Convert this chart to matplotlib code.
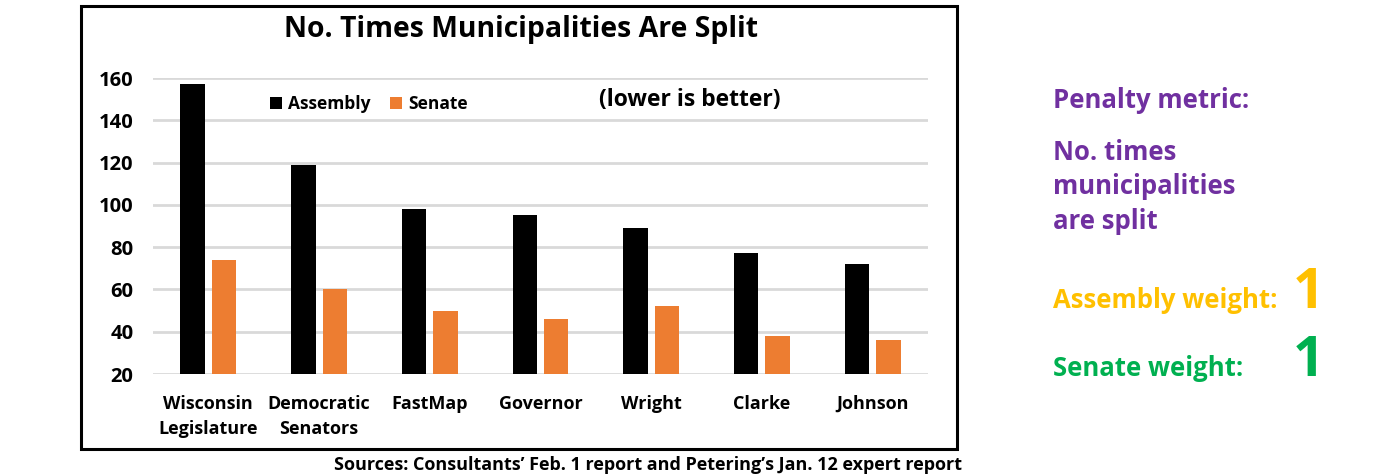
import matplotlib
matplotlib.use("Agg")
import matplotlib.pyplot as plt
from matplotlib.patches import Rectangle
import numpy as np

categories = ["Wisconsin\nLegislature", "Democratic\nSenators", "FastMap", "Governor",
              "Wright", "Clarke", "Johnson"]
assembly = [157, 119, 98, 95, 89, 77, 72]
senate = [74, 60, 50, 46, 52, 38, 36]
yticks = [20, 40, 60, 80, 100, 120, 140, 160]

plt.rcParams['font.family'] = ['Open Sans', 'DejaVu Sans']
W, H = 1385, 474
fig = plt.figure(figsize=(W / 100, H / 100), dpi=100)

# frame
fig.patches.append(Rectangle((81 / W, 1 - 449 / H), (957 - 81) / W, (449 - 6) / H,
                             transform=fig.transFigure, fill=False, edgecolor='black',
                             linewidth=2.2, zorder=0))

ax = fig.add_axes([153 / W, 1 - 374 / H, (928 - 153) / W, (374 - 78) / H])
x = np.arange(len(categories))
bw = 0.22
ax.bar(x - 0.142, [a - 20 for a in assembly], bw, bottom=20, color='black', zorder=3,
       label='Assembly')
ax.bar(x + 0.142, [s - 20 for s in senate], bw, bottom=20, color='#ED7D31', zorder=3,
       label='Senate')
ax.set_xlim(-0.5, len(categories) - 0.5)
ax.set_ylim(20, 160)
ax.set_yticks(yticks)
ax.set_yticklabels([str(t) for t in yticks], fontsize=14.5, fontweight='bold')
ax.set_xticks(x)
ax.set_xticklabels(categories, fontsize=13, fontweight='bold', linespacing=1.5)
ax.tick_params(axis='both', length=0)
ax.tick_params(axis='y', pad=14)
ax.tick_params(axis='x', pad=15)
ax.yaxis.grid(True, color='#D9D9D9', linewidth=2, zorder=0)
for s in ax.spines.values():
    s.set_visible(False)

leg = ax.legend(loc='upper left', bbox_to_anchor=(0.131, 0.995), ncol=2, frameon=False,
                prop={'size': 12.5, 'weight': 'bold'}, handlelength=0.7, handleheight=0.7,
                handletextpad=0.35, columnspacing=1.1)

fig.text(521 / W, 1 - 30 / H, "No. Times Municipalities Are Split", ha='center',
         va='center', fontsize=20.4, fontweight='bold')
fig.text(690 / W, 1 - 100 / H, "(lower is better)", ha='center', va='center',
         fontsize=16.5, fontweight='bold')
fig.text(962 / W, 1 - 465 / H,
         "Sources: Consultants\u2019 Feb. 1 report and Petering\u2019s Jan. 12 expert report",
         ha='right', va='center', fontsize=13, fontweight='bold')

purple = '#7030A0'
gold = '#FFC000'
green = '#00B050'
fig.text(1053 / W, 1 - 101 / H, "Penalty metric:", ha='left', va='center',
         fontsize=18.5, fontweight='bold', color=purple)
fig.text(1053 / W, 1 - 187 / H, "No. times\nmunicipalities\nare split", ha='left',
         va='center', fontsize=18.5, fontweight='bold', color=purple, linespacing=1.38)
fig.text(1053 / W, 1 - 300 / H, "Assembly weight:", ha='left', va='center',
         fontsize=18.5, fontweight='bold', color=gold)
fig.text(1309 / W, 1 - 293 / H, "1", ha='center', va='center',
         fontsize=40, fontweight='bold', color=gold)
fig.text(1053 / W, 1 - 369 / H, "Senate weight:", ha='left', va='center',
         fontsize=18.5, fontweight='bold', color=green)
fig.text(1309 / W, 1 - 362 / H, "1", ha='center', va='center',
         fontsize=40, fontweight='bold', color=green)

fig.savefig("out.png", dpi=100)
